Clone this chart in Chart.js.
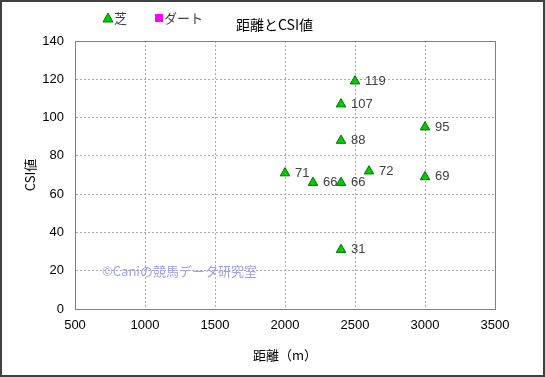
<!DOCTYPE html>
<html>
<head>
<meta charset="utf-8">
<script src="https://cdn.jsdelivr.net/npm/chart.js@4"></script>
<style>
  html, body { margin: 0; padding: 0; background: #fff; }
  #wrap { width: 545px; height: 377px; }
</style>
</head>
<body>
<div id="wrap"><canvas id="csi-chart" width="545" height="377"></canvas></div>
<script>
// 芝 series: distance (m) and CSI value
const turfDistance = [2500, 2400, 3000, 2400, 2000, 2200, 2400, 2600, 3000, 2400];
const turfCsi = [119, 107, 95, 88, 71, 66, 66, 72, 69, 31];
// ダート series has no points in this chart
const dirtDistance = [];
const dirtCsi = [];

const chartTitle = "距離とCSI値";
const xTitle = "距離（m）";
const yTitle = "CSI値";
const watermark = "©Caniの競馬データ研究室";
const legendLabels = ["芝", "ダート"];

const FONT = "'Liberation Sans', 'Noto Sans CJK JP', sans-serif";
const JP_FONT = "'Noto Sans CJK JP', 'Liberation Sans', sans-serif";

const decorPlugin = {
  id: "decor",
  beforeDatasetsDraw(chart) {
    const { ctx, chartArea: a } = chart;
    ctx.save();
    // plot border
    ctx.strokeStyle = "#808080";
    ctx.lineWidth = 1;
    ctx.setLineDash([]);
    ctx.strokeRect(Math.round(a.left) + 0.5, Math.round(a.top) + 0.5,
      Math.round(a.right - a.left), Math.round(a.bottom - a.top));
    // watermark
    ctx.fillStyle = "#9f9ff0";
    ctx.font = "13px " + JP_FONT;
    ctx.textBaseline = "middle";
    ctx.fillText(watermark, 102, 271);
    ctx.restore();
  },
  afterDraw(chart) {
    const { ctx } = chart;
    ctx.save();
    // value labels next to each point
    const meta = chart.getDatasetMeta(0);
    ctx.fillStyle = "#404040";
    ctx.font = "13px " + FONT;
    ctx.textBaseline = "middle";
    meta.data.forEach((pt, i) => {
      ctx.fillText(String(turfCsi[i]), pt.x + 10, pt.y);
    });

    // legend
    ctx.font = "13px " + JP_FONT;
    ctx.fillStyle = "#00cc00";
    ctx.strokeStyle = "#008000";
    ctx.lineWidth = 1;
    ctx.beginPath();
    ctx.moveTo(108, 13);
    ctx.lineTo(113, 22);
    ctx.lineTo(103, 22);
    ctx.closePath();
    ctx.fill();
    ctx.stroke();
    ctx.fillStyle = "#404040";
    ctx.fillText(legendLabels[0], 114, 18);
    ctx.fillStyle = "#ff00ff";
    ctx.fillRect(155, 14, 8, 8);
    ctx.fillStyle = "#404040";
    ctx.fillText(legendLabels[1], 164, 18);

    // title
    ctx.fillStyle = "#000";
    ctx.font = "14px " + JP_FONT;
    ctx.fillText(chartTitle, 236, 25);

    // outer frame
    ctx.strokeStyle = "#404040";
    ctx.lineWidth = 2;
    ctx.strokeRect(1, 1, 543, 375);
    ctx.restore();
  }
};

const gridStyle = {
  color: "#a8a8a8",
  lineWidth: 1,
  drawTicks: false
};
const gridBorder = { display: true, color: "#808080", dash: [2, 2] };

new Chart(document.getElementById("csi-chart"), {
  type: "scatter",
  data: {
    datasets: [
      {
        label: legendLabels[0],
        data: turfDistance.map((d, i) => ({ x: d, y: turfCsi[i] })),
        pointStyle: "triangle",
        pointRadius: 5.5,
        pointHoverRadius: 5.5,
        backgroundColor: "#00cc00",
        borderColor: "#007000",
        borderWidth: 1
      },
      {
        label: legendLabels[1],
        data: dirtDistance.map((d, i) => ({ x: d, y: dirtCsi[i] })),
        pointStyle: "rect",
        backgroundColor: "#ff00ff",
        borderColor: "#ff00ff"
      }
    ]
  },
  options: {
    responsive: false,
    animation: false,
    events: [],
    layout: { padding: { top: 41, right: 50, bottom: 0, left: 0 } },
    plugins: {
      legend: { display: false },
      title: { display: false },
      tooltip: { enabled: false }
    },
    scales: {
      x: {
        type: "linear",
        min: 500,
        max: 3500,
        afterFit: s => { s.height = 68; },
        ticks: {
          stepSize: 500,
          color: "#000",
          padding: 9,
          font: { family: FONT, size: 13 },
          callback: v => String(v)
        },
        grid: gridStyle,
        border: gridBorder,
        title: {
          display: true,
          text: xTitle,
          color: "#000",
          font: { family: JP_FONT, size: 13 },
          padding: { top: 0, bottom: 14 }
        }
      },
      y: {
        min: 0,
        max: 140,
        afterFit: s => { s.width = 75; },
        ticks: { stepSize: 20, color: "#000", padding: 11, font: { family: FONT, size: 13 } },
        grid: gridStyle,
        border: gridBorder,
        title: {
          display: true,
          text: yTitle,
          color: "#000",
          font: { family: JP_FONT, size: 13 },
          padding: { top: 22, bottom: 0 }
        }
      }
    }
  },
  plugins: [decorPlugin]
});
</script>
</body>
</html>
